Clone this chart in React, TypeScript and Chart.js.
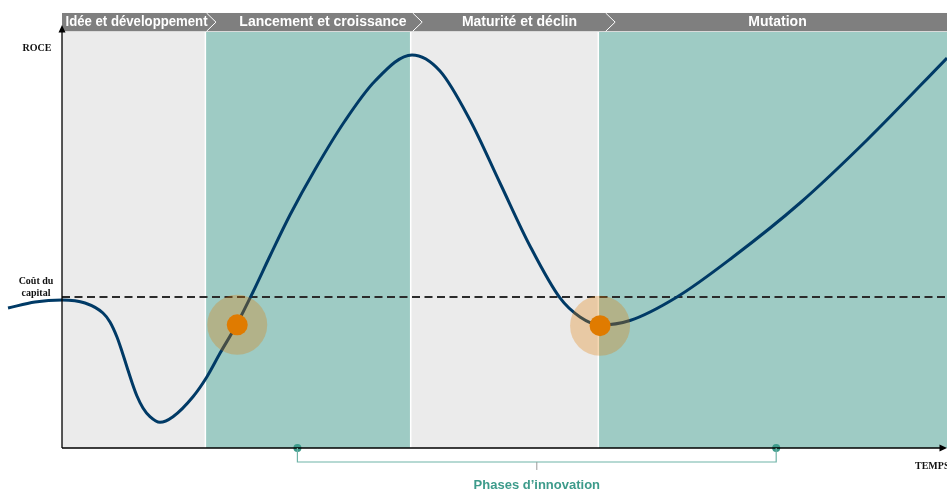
import React, { useEffect, useRef } from "react";
import { Chart, registerables } from "chart.js";

Chart.register(...registerables);

// ---- Data (time units on x: 0 = vertical axis, 100 = right edge; ROCE units on y: 0 = time axis) ----
const phaseLabels = ["Idée et développement", "Lancement et croissance", "Maturité et déclin", "Mutation"];
const phaseLabelCenters = [8.42, 29.49, 51.69, 80.85];
const phaseStarts = [0, 16.2, 39.4, 60.6];
const phaseEnd = 100;
const headerDividers = [17.4, 40.7, 62.5];

const timeValues = [
  -6.1, -3.05, 0, 2.6, 4.63, 5.42, 6.21, 6.78, 7.34, 7.91, 8.47, 9.15, 9.94, 11.07, 12.54, 14.8, 16.38, 17.85,
  19.77, 21.58, 23.5, 25.76, 28.59, 31.98, 35.37, 39.55, 42.71, 46.1, 49.49, 52.88, 56.27, 58.53, 60.79, 64.18,
  69.49, 75.82, 83.39, 90.96, 100,
];
const roceValues = [
  33.65, 35.1, 35.58, 34.86, 32.45, 30.29, 26.68, 23.2, 19.47, 15.75, 12.5, 9.62, 7.53, 6.18, 7.53, 12.33, 17.14,
  22.76, 29.81, 37.5, 46.15, 56.01, 66.95, 78.67, 88.22, 94.47, 90.63, 78.85, 63.7, 48.56, 36.06, 31.49, 29.57,
  30.65, 36.3, 45.91, 58.89, 74.04, 93.75,
];

const costOfCapital = 36.3;
const innovationX = [19.8, 60.8];
const innovationY = [29.6, 29.4];
const bracketX = [26.6, 80.7];
const bracketLabel = "Phases d’innovation";
const yAxisLabel = "ROCE";
const costLabel = ["Coût du", "capital"];
const xAxisLabel = "TEMPS";

const GREY = "#ebebeb";
const TEAL = "#9ecbc4";
const NAVY = "#003a66";
const ORANGE = "#e07b00";
const GREEN = "#3d9b8b";

const decorPlugin = {
  id: "decor",
  beforeDatasetsDraw(chart: any) {
    const { ctx, scales } = chart;
    const x = scales.x;
    const y = scales.y;
    const top = y.getPixelForValue(100);
    const bottom = y.getPixelForValue(0);
    ctx.save();
    // bands
    phaseStarts.forEach((s, i) => {
      const e = i + 1 < phaseStarts.length ? phaseStarts[i + 1] : phaseEnd;
      const x0 = x.getPixelForValue(s);
      const x1 = x.getPixelForValue(e);
      ctx.fillStyle = i % 2 === 0 ? GREY : TEAL;
      ctx.fillRect(x0, top, x1 - x0, bottom - top);
    });
    ctx.strokeStyle = "#ffffff";
    ctx.lineWidth = 1.5;
    phaseStarts.slice(1).forEach((s) => {
      const px = x.getPixelForValue(s);
      ctx.beginPath();
      ctx.moveTo(px, top);
      ctx.lineTo(px, bottom);
      ctx.stroke();
    });
    // header bar
    const hTop = top - 19;
    const hBot = top - 0.7;
    const hMid = (hTop + hBot) / 2;
    const hx0 = x.getPixelForValue(0);
    const hx1 = x.getPixelForValue(phaseEnd);
    ctx.fillStyle = "#7f7f7f";
    ctx.fillRect(hx0, hTop, hx1 - hx0, hBot - hTop);
    ctx.strokeStyle = "#ffffff";
    ctx.lineWidth = 1;
    headerDividers.forEach((d) => {
      const px = x.getPixelForValue(d);
      ctx.beginPath();
      ctx.moveTo(px - 9.5, hTop);
      ctx.lineTo(px, hMid);
      ctx.lineTo(px - 9.5, hBot);
      ctx.stroke();
    });
    ctx.fillStyle = "#ffffff";
    ctx.font = "bold 14px 'Liberation Sans', Arial, sans-serif";
    ctx.textAlign = "center";
    ctx.textBaseline = "middle";
    const bounds = [0, ...headerDividers, phaseEnd];
    phaseLabels.forEach((lab, i) => {
      const a = x.getPixelForValue(bounds[i]);
      const b = x.getPixelForValue(bounds[i + 1]);
      const cx = x.getPixelForValue(phaseLabelCenters[i]);
      ctx.fillText(lab, cx, hMid + 0.5, b - a - 12);
    });
    ctx.restore();
  },
  afterDatasetsDraw(chart: any) {
    const { ctx, scales } = chart;
    const x = scales.x;
    const y = scales.y;
    const ax = x.getPixelForValue(0);
    const ay = y.getPixelForValue(0);
    const top = y.getPixelForValue(100);
    const right = x.getPixelForValue(phaseEnd);
    ctx.save();
    ctx.strokeStyle = "#000000";
    ctx.fillStyle = "#000000";
    ctx.lineWidth = 1.3;
    ctx.beginPath();
    ctx.moveTo(ax, ay);
    ctx.lineTo(ax, top - 2);
    ctx.moveTo(ax, ay);
    ctx.lineTo(right - 6, ay);
    ctx.stroke();
    // arrows
    ctx.beginPath();
    ctx.moveTo(ax, top - 7);
    ctx.lineTo(ax - 3.5, top + 0.5);
    ctx.lineTo(ax + 3.5, top + 0.5);
    ctx.closePath();
    ctx.fill();
    ctx.beginPath();
    ctx.moveTo(right, ay);
    ctx.lineTo(right - 7.5, ay - 3.5);
    ctx.lineTo(right - 7.5, ay + 3.5);
    ctx.closePath();
    ctx.fill();
    // labels
    ctx.font = "bold 10px 'Liberation Serif', 'Times New Roman', serif";
    ctx.fillStyle = "#111111";
    ctx.textAlign = "center";
    ctx.textBaseline = "middle";
    ctx.fillText(yAxisLabel, 37, top + 16.5);
    const cy = y.getPixelForValue(costOfCapital);
    ctx.fillText(costLabel[0], 36, cy - 16);
    ctx.fillText(costLabel[1], 36, cy - 4);
    ctx.textAlign = "left";
    ctx.fillText(xAxisLabel, right - 32, ay + 18);
    // bracket
    const b0 = x.getPixelForValue(bracketX[0]);
    const b1 = x.getPixelForValue(bracketX[1]);
    const by = ay + 14;
    ctx.strokeStyle = "#6fb3a7";
    ctx.lineWidth = 1.2;
    ctx.beginPath();
    ctx.moveTo(b0, ay);
    ctx.lineTo(b0, by);
    ctx.lineTo(b1, by);
    ctx.lineTo(b1, ay);
    ctx.stroke();
    const bc = (b0 + b1) / 2;
    ctx.strokeStyle = "#9a9a9a";
    ctx.lineWidth = 1;
    ctx.beginPath();
    ctx.moveTo(bc, by);
    ctx.lineTo(bc, by + 8);
    ctx.stroke();
    ctx.fillStyle = GREEN;
    ctx.font = "bold 13px 'Liberation Sans', Arial, sans-serif";
    ctx.textAlign = "center";
    ctx.fillText(bracketLabel, bc, by + 23.5);
    ctx.restore();
  },
};

export default function App() {
  const ref = useRef<HTMLCanvasElement | null>(null);
  useEffect(() => {
    if (!ref.current) return;
    const curve = timeValues.map((t, i) => ({ x: t, y: roceValues[i] }));
    const innov = innovationX.map((t, i) => ({ x: t, y: innovationY[i] }));
    const chart = new Chart(ref.current, {
      type: "line",
      data: {
        datasets: [
          {
            data: innov,
            showLine: false,
            pointRadius: 10.5,
            pointBackgroundColor: ORANGE,
            pointBorderWidth: 0,
            order: 1,
          } as any,
          {
            data: innov,
            showLine: false,
            pointRadius: 30,
            pointBackgroundColor: "rgba(224,123,0,0.3)",
            pointBorderWidth: 0,
            order: 2,
          } as any,
          {
            data: bracketX.map((t) => ({ x: t, y: 0 })),
            showLine: false,
            pointRadius: 4,
            pointBackgroundColor: GREEN,
            pointBorderWidth: 0,
            order: 0,
          } as any,
          {
            data: curve,
            borderColor: NAVY,
            borderWidth: 3,
            pointRadius: 0,
            cubicInterpolationMode: "monotone",
            order: 3,
          } as any,
          {
            data: [
              { x: 0, y: costOfCapital },
              { x: phaseEnd, y: costOfCapital },
            ],
            borderColor: "#2b2b2b",
            borderWidth: 2,
            borderDash: [8, 4.5],
            pointRadius: 0,
            order: 4,
          } as any,
        ],
      },
      options: {
        animation: false,
        responsive: false,
        layout: { padding: 0, autoPadding: false },
        events: [],
        plugins: { legend: { display: false }, tooltip: { enabled: false } },
        scales: {
          x: { type: "linear", min: -7.006, max: 100, display: false },
          y: { type: "linear", min: -9.86, max: 107.69, display: false },
        },
        datasets: { line: { clip: false as any } },
      } as any,
      plugins: [decorPlugin],
    });
    return () => chart.destroy();
  }, []);
  return (
    <div style={{ position: "fixed", left: 0, top: 0, width: 947, height: 489, background: "#ffffff" }}>
      <canvas ref={ref} width={947} height={489} style={{ width: 947, height: 489, display: "block" }} />
    </div>
  );
}
